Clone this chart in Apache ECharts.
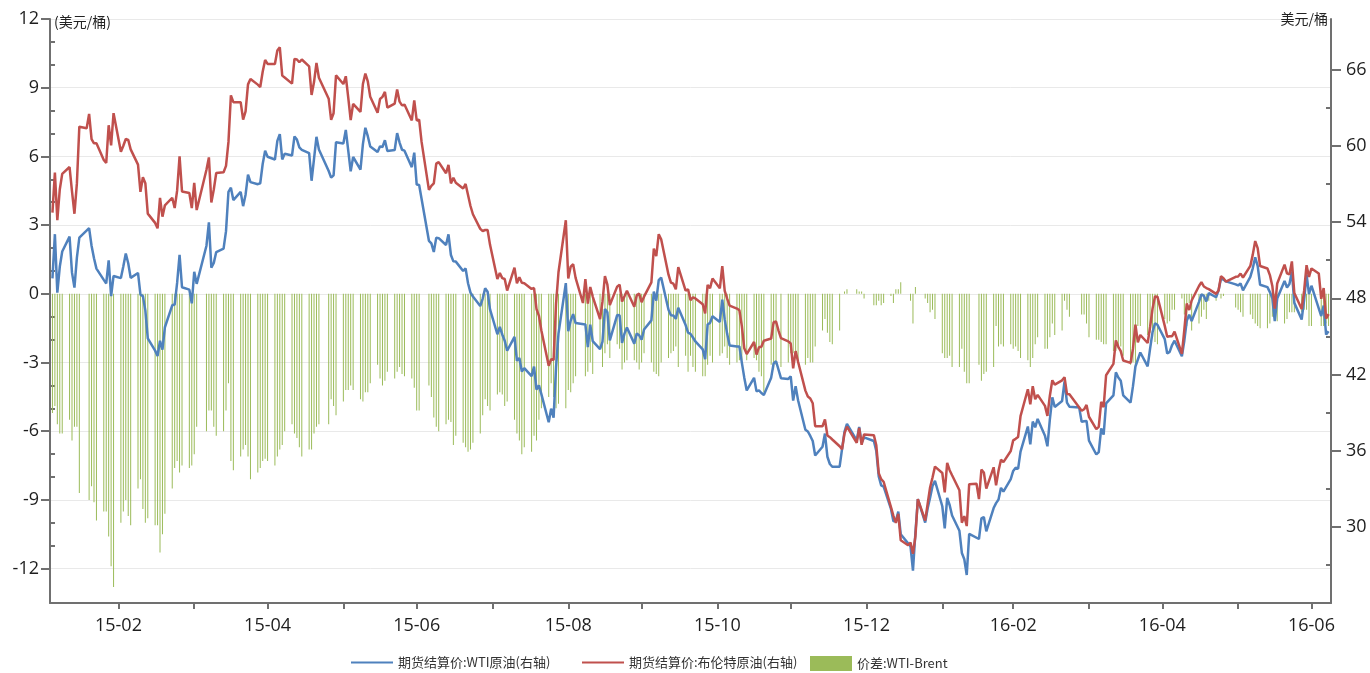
<!DOCTYPE html>
<html><head><meta charset="utf-8">
<script src="https://cdn.jsdelivr.net/npm/echarts@6/dist/echarts.min.js"></script>
<style>html,body{margin:0;padding:0;background:#fff}#c{width:1370px;height:673px}</style>
</head><body><div id="c"></div>
<script>
// trading calendar (weekdays between these dates, minus days both markets were closed)
const firstDay = '2015-02-02';
const lastDay = '2016-07-08';
const axisStart = '2015-02-01';
const axisEnd = '2016-07-09';
const closedDays = ['2015-04-03','2015-05-25','2015-12-25','2016-01-01','2016-03-25','2016-05-30'];

// 期货结算价:WTI原油 (right axis), one value per trading day, null = NYMEX closed
const wti = [
// 2015-02
49.57,53.05,48.45,50.48,51.69,52.86,50.02,48.84,51.21,52.78,null,53.53,52.14,51.16,50.34,49.45,49.17,50.99,48.17,49.76,
// 2015-03
49.59,50.52,51.53,50.76,49.61,50.00,48.29,48.17,47.05,44.84,43.88,43.46,44.66,43.96,45.72,47.45,47.51,49.21,51.43,48.87,48.68,47.60,
// 2015-04
50.09,49.14,52.14,53.98,50.42,50.79,51.64,51.91,53.29,56.39,56.71,55.74,56.38,55.26,56.16,57.74,57.15,56.99,57.06,58.58,59.63,
// 2015-05
59.15,58.93,60.40,60.93,58.94,59.39,59.25,60.75,60.50,59.88,59.69,59.43,57.26,58.98,60.72,59.72,58.03,57.51,57.68,60.30,
// 2015-06
60.20,61.26,59.64,58.00,59.13,58.14,60.14,61.43,60.77,59.96,59.52,59.97,59.92,60.45,59.61,59.68,61.01,60.27,59.70,59.63,58.33,59.47,
// 2015-07
56.96,56.93,null,52.53,52.33,51.65,52.78,52.74,52.20,53.04,51.41,50.91,50.89,50.15,50.36,49.19,48.45,48.14,47.39,47.98,48.79,48.52,47.12,
// 2015-08
45.17,45.74,45.15,44.66,43.87,44.96,43.08,43.30,42.23,42.50,41.87,42.62,40.80,41.14,40.45,38.24,39.31,38.60,42.56,45.22,49.20,
// 2015-09
45.41,46.25,46.75,46.05,null,45.94,44.15,45.92,44.63,44.00,44.59,47.15,46.90,44.68,46.68,46.66,44.48,45.22,45.70,44.43,45.23,45.09,
// 2015-10
44.74,45.54,46.26,48.53,47.81,49.43,49.63,47.10,46.66,46.64,46.38,47.26,45.89,45.29,45.20,44.91,44.60,43.98,43.20,45.94,46.06,46.59,
// 2015-11
46.14,47.90,46.32,45.20,44.29,44.21,44.21,42.93,41.75,40.74,41.74,40.67,40.75,40.54,40.39,41.75,42.87,43.04,null,41.71,41.65,
// 2015-12
41.85,39.94,41.08,39.97,37.65,37.51,37.16,36.76,35.62,36.31,37.35,35.52,34.95,34.73,34.74,36.14,37.50,38.10,36.81,37.87,36.60,37.04,
// 2016-01
36.76,35.97,33.97,33.27,33.16,31.41,30.44,30.48,31.20,29.42,null,28.46,26.55,29.53,32.19,30.34,31.45,32.30,33.22,33.62,
// 2016-02
31.62,29.88,32.28,31.72,30.89,29.69,27.94,27.45,26.21,29.44,null,29.04,30.66,30.77,29.64,31.48,31.87,32.15,33.07,32.78,33.75,
// 2016-03
34.40,34.66,34.57,35.92,37.90,36.50,38.29,37.84,38.50,37.18,36.34,38.46,40.20,39.44,39.91,41.45,39.79,39.46,39.39,38.28,38.32,38.34,
// 2016-04
36.79,35.70,35.89,37.75,37.26,39.72,40.36,42.17,41.76,41.50,40.36,39.78,41.08,42.63,43.18,43.73,42.64,44.04,45.33,46.03,45.92,
// 2016-05
44.78,43.65,43.78,44.32,44.66,43.44,44.66,46.23,46.70,46.21,47.72,48.31,48.19,47.75,48.41,48.08,48.62,49.56,49.48,49.33,49.10,
// 2016-06
49.01,49.17,48.62,49.69,50.36,51.23,50.56,49.07,48.88,48.49,48.01,46.21,47.98,49.37,48.85,49.13,50.11,47.64,46.33,47.85,49.88,48.33,
// 2016-07
48.99,null,46.60,47.43,45.14,45.41
];

// 期货结算价:布伦特原油 (right axis)
const brent = [
// 2015-02
54.75,57.91,54.16,56.57,57.80,58.34,56.43,54.66,57.05,61.52,61.40,62.53,60.53,60.21,60.22,58.90,58.66,61.63,60.05,62.58,
// 2015-03
59.54,60.02,60.55,60.48,59.73,58.53,56.39,57.54,57.07,54.67,53.94,53.51,55.91,54.43,55.32,55.92,55.11,56.48,59.19,56.41,56.29,55.11,
// 2015-04
57.10,54.95,58.12,59.10,55.55,56.57,57.87,57.93,58.43,60.32,63.98,63.45,63.45,62.08,62.72,64.85,65.28,64.83,64.64,65.84,66.78,
// 2015-05
66.46,66.45,67.52,67.77,65.54,65.39,64.91,66.86,66.81,66.59,66.81,66.27,64.02,65.03,66.54,65.37,63.72,62.06,62.58,65.56,
// 2015-06
64.88,65.49,63.80,62.03,63.31,62.69,64.88,65.70,65.08,63.87,62.61,63.70,63.87,64.26,63.02,63.34,64.45,63.49,63.20,63.26,62.01,63.59,
// 2015-07
62.01,62.07,60.32,56.54,56.85,57.05,58.61,58.73,57.85,58.51,57.05,57.50,57.10,56.65,57.01,56.13,55.27,54.62,53.47,53.30,53.38,53.38,52.21,
// 2015-08
49.52,49.99,49.59,49.52,48.61,50.41,49.18,49.66,49.22,49.19,48.74,48.81,47.16,46.62,45.46,42.69,43.21,43.14,47.56,50.05,54.15,
// 2015-09
49.56,50.50,50.68,49.61,47.63,49.52,47.58,48.89,48.14,46.37,47.75,49.75,49.08,47.47,48.92,49.08,47.75,48.17,48.60,47.34,48.23,48.37,
// 2015-10
47.69,48.13,49.25,51.92,51.33,53.05,52.65,49.86,49.24,49.15,48.71,50.46,48.61,48.71,47.85,48.08,47.99,47.54,46.81,49.05,48.80,49.56,
// 2015-11
48.79,50.54,48.58,47.98,47.42,47.19,47.06,45.81,44.06,43.61,44.56,43.57,44.14,44.18,44.66,44.83,46.12,46.17,45.46,44.86,44.61,
// 2015-12
44.44,42.49,43.84,43.00,40.73,40.26,40.11,39.73,37.93,37.92,38.45,37.19,37.06,36.88,36.35,36.11,37.36,37.89,36.62,37.79,36.46,37.28,
// 2016-01
37.22,36.42,34.23,33.75,33.55,31.55,30.86,30.31,31.03,28.94,28.55,28.76,27.88,29.25,32.18,30.50,31.80,33.10,33.89,34.74,
// 2016-02
34.24,32.72,35.04,34.46,34.06,32.88,30.32,30.84,30.06,33.36,33.39,32.18,34.50,34.28,33.01,34.69,33.27,34.41,35.29,35.10,35.97,
// 2016-03
36.81,36.93,37.07,38.72,40.84,39.65,41.07,40.05,40.39,39.53,38.74,40.33,41.54,41.20,41.54,41.79,40.47,40.44,null,39.14,39.26,39.60,
// 2016-04
38.67,37.69,37.87,39.84,39.43,41.94,42.83,44.69,44.18,43.84,43.10,42.91,44.03,45.92,44.53,45.11,44.48,45.74,47.18,48.14,48.13,
// 2016-05
45.83,44.97,45.01,45.01,45.37,43.63,45.52,47.59,47.08,47.83,48.97,49.28,48.93,48.81,48.72,48.35,48.61,49.74,49.59,49.32,49.69,
// 2016-06
49.72,49.95,49.64,50.55,51.44,52.51,51.95,50.54,50.35,49.83,48.97,47.19,49.17,50.65,49.96,49.88,50.91,48.41,47.16,48.58,50.61,49.68,
// 2016-07
50.35,49.96,47.96,48.80,46.40,46.76
];

// 价差:WTI-Brent (left axis)
const spread = [
// 2015-02
-5.2,-4.9,-5.7,-6.1,-6.1,-5.5,-6.4,-5.8,-5.8,-8.7,null,-9.0,-8.4,-9.1,-9.9,-9.5,-9.5,-10.6,-11.9,-12.8,
// 2015-03
-10.0,-9.5,-9.0,-9.7,-10.1,-8.5,-8.1,-9.4,-10.0,-9.8,-10.1,-10.1,-11.3,-10.5,-9.6,-8.5,-7.6,-7.3,-7.8,-7.5,-7.6,-7.5,
// 2015-04
-7.0,-5.8,-6.0,-5.1,-5.1,-5.8,-6.2,-6.0,-5.1,-3.9,-7.3,-7.7,-7.1,-6.8,-6.6,-7.1,-8.1,-7.8,-7.6,-7.3,-7.2,
// 2015-05
-7.3,-7.5,-7.1,-6.8,-6.6,-6.0,-5.7,-6.1,-6.3,-6.7,-7.1,-6.8,-6.8,-6.1,-5.8,-5.7,-5.7,-4.6,-4.9,-5.3,
// 2015-06
-4.7,-4.2,-4.2,-4.0,-4.2,-4.6,-4.7,-4.3,-4.3,-3.9,-3.1,-3.7,-4.0,-3.8,-3.4,-3.7,-3.4,-3.2,-3.5,-3.6,-3.7,-4.1,
// 2015-07
-5.1,-5.1,null,-4.0,-4.5,-5.4,-5.8,-6.0,-5.7,-5.5,-5.6,-6.6,-6.2,-6.5,-6.7,-6.9,-6.8,-6.5,-6.1,-5.3,-4.6,-4.9,-5.1,
// 2015-08
-4.4,-4.3,-4.4,-4.9,-4.7,-5.5,-6.1,-6.4,-7.0,-6.7,-6.9,-6.2,-6.4,-5.5,-5.0,-4.5,-3.9,-4.5,-5.0,-4.8,-5.0,
// 2015-09
-4.2,-4.3,-3.9,-3.6,null,-3.6,-3.4,-3.0,-3.5,-2.4,-3.2,-2.6,-2.2,-2.8,-2.2,-2.4,-3.3,-3.0,-2.9,-2.9,-3.0,-3.3,
// 2015-10
-3.0,-2.6,-3.0,-3.4,-3.5,-3.6,-3.0,-2.8,-2.6,-2.5,-2.3,-3.2,-2.7,-3.4,-2.7,-3.2,-3.4,-3.6,-3.6,-3.1,-2.7,-3.0,
// 2015-11
-2.7,-2.6,-2.3,-2.8,-3.1,-3.0,-2.9,-2.9,-2.3,-2.9,-2.8,-2.9,-3.4,-3.6,-4.3,-3.1,-3.3,-3.1,null,-3.2,-3.0,
// 2015-12
-2.6,-2.6,-2.8,-3.0,-3.1,-2.8,-3.0,-3.0,-2.3,-1.6,-1.1,-1.7,-2.1,-2.2,-1.6,0.0,0.1,0.2,0.2,0.1,0.1,-0.2,
// 2016-01
-0.5,-0.5,-0.3,-0.5,-0.4,-0.1,-0.4,0.2,0.2,0.5,null,-0.3,-1.3,0.3,0.0,-0.2,-0.4,-0.8,-0.7,-1.1,
// 2016-02
-2.6,-2.8,-2.8,-2.7,-3.2,-3.2,-2.4,-3.4,-3.9,-3.9,null,-3.1,-3.8,-3.5,-3.4,-3.2,-1.4,-2.3,-2.2,-2.3,-2.2,
// 2016-03
-2.4,-2.3,-2.5,-2.8,-2.9,-3.2,-2.8,-2.2,-1.9,-2.4,-2.4,-1.9,-1.3,-1.8,-1.6,-0.3,-0.7,-1.0,null,-0.9,-0.9,-1.3,
// 2016-04
-1.9,-2.0,-2.0,-2.1,-2.2,-2.2,-2.5,-2.5,-2.4,-2.3,-2.7,-3.1,-3.0,-3.3,-1.4,-1.4,-1.8,-1.7,-1.9,-2.1,-2.2,
// 2016-05
-1.1,-1.3,-1.2,-0.7,-0.7,-0.2,-0.9,-1.4,-0.4,-1.6,-1.3,-1.0,-0.7,-1.1,-0.3,-0.3,0.0,-0.2,-0.1,0.0,-0.6,
// 2016-06
-0.7,-0.8,-1.0,-0.9,-1.1,-1.3,-1.4,-1.5,-1.5,-1.3,-1.0,-1.0,-1.2,-1.3,-1.1,-0.8,-0.8,-0.8,-0.8,-0.7,-0.7,-1.4,
// 2016-07
-1.4,null,-1.4,-1.4,-1.3,-1.4
];

// axis ticks and labels
const monthTicks = ['2015-03-01','2015-04-01','2015-05-01','2015-06-01','2015-07-01','2015-08-01','2015-09-01','2015-10-01','2015-11-01','2015-12-01','2016-01-01','2016-02-01','2016-03-01','2016-04-01','2016-05-01','2016-06-01','2016-07-01'];
const xLabelDates = ['2015-03-01','2015-05-01','2015-07-01','2015-09-01','2015-11-01','2016-01-01','2016-03-01','2016-05-01','2016-07-01'];
const xLabels = ['15-02','15-04','15-06','15-08','15-10','15-12','16-02','16-04','16-06'];
const leftMajor = [-12,-9,-6,-3,0,3,6,9,12];
const leftMinor = [-11,-10,-8,-7,-5,-4,-2,-1,1,2,4,5,7,8,10,11];
const rightMajor = [30,36,42,48,54,60,66];
const rightMinor = [27,33,39,45,51,57,63];

const nameWTI = '期货结算价:WTI原油(右轴)';
const nameBrent = '期货结算价:布伦特原油(右轴)';
const nameSpread = '价差:WTI-Brent';

const ts = s => { const a = s.split('-').map(Number); return Date.UTC(a[0], a[1]-1, a[2]); };
function buildDays() {
  const out = [];
  for (let t = ts(firstDay); t <= ts(lastDay); t += 86400000) {
    const d = new Date(t), wd = d.getUTCDay(), s = d.toISOString().slice(0,10);
    if (wd !== 0 && wd !== 6 && closedDays.indexOf(s) < 0) out.push(t);
  }
  return out;
}
const days = buildDays();
const pair = arr => days.map((t, i) => [t, arr[i] === undefined ? null : arr[i]]);

const axisColor = '#707070';
const numFont = { fontFamily: 'Open Sans', fontSize: 18, color: '#1e1e1e' };
const cjk = 'Noto Sans CJK SC';

function xLabel(v) {
  const key = new Date(v).toISOString().slice(0,10);
  const i = xLabelDates.indexOf(key);
  return i >= 0 ? xLabels[i] : '';
}

const chart = echarts.init(document.getElementById('c'), null, { renderer: 'canvas' });
const legendBase = { top: 656, padding: 0, itemWidth: 42, itemHeight: 15, itemGap: 0,
  textStyle: { fontFamily: cjk, fontSize: 13, color: '#333' } };
chart.setOption({
  animation: false,
  backgroundColor: '#fff',
  grid: { left: 50, right: 39, top: 19, bottom: 70, containLabel: false },
  legend: [
    Object.assign({ left: 350, data: [nameWTI], itemStyle: { opacity: 0 } }, legendBase),
    Object.assign({ left: 581, data: [nameBrent], itemStyle: { opacity: 0 } }, legendBase),
    Object.assign({ left: 810, data: [{ name: nameSpread, icon: 'rect' }] }, legendBase)
  ],
  xAxis: {
    type: 'value', min: ts(axisStart), max: ts(axisEnd),
    axisLine: { onZero: false, lineStyle: { color: axisColor, width: 2 } },
    axisTick: { show: true, length: 6, customValues: monthTicks.map(ts), lineStyle: { color: axisColor, width: 2 } },
    axisLabel: Object.assign({ customValues: xLabelDates.map(ts), formatter: xLabel, margin: 14 }, numFont),
    splitLine: { show: false }
  },
  yAxis: [
    { type: 'value', position: 'left', min: -13.5, max: 12,
      name: '(美元/桶)', nameLocation: 'end', nameGap: -3,
      nameTextStyle: { fontFamily: cjk, fontSize: 14, color: '#222', align: 'left', verticalAlign: 'middle', padding: [0,0,0,4] },
      axisLine: { show: true, lineStyle: { color: axisColor, width: 2 } },
      axisTick: { show: true, length: 9, customValues: leftMajor, lineStyle: { color: axisColor, width: 2 } },
      axisLabel: Object.assign({ customValues: leftMajor, margin: 11 }, numFont),
      splitLine: { show: true, lineStyle: { color: '#e9e9e9', width: 1 } }
    },
    { type: 'value', position: 'right', min: 24, max: 70,
      name: '美元/桶', nameLocation: 'end', nameGap: 0,
      nameTextStyle: { fontFamily: cjk, fontSize: 14, color: '#222', align: 'right', verticalAlign: 'middle', padding: [0,3,0,0] },
      axisLine: { show: true, lineStyle: { color: axisColor, width: 2 } },
      axisTick: { show: true, length: 10, customValues: rightMajor, lineStyle: { color: axisColor, width: 2 } },
      axisLabel: Object.assign({ customValues: rightMajor, margin: 15 }, numFont),
      splitLine: { show: false }
    },
    { type: 'value', position: 'left', min: -13.5, max: 12, offset: 0,
      axisLine: { show: false }, axisLabel: { show: false }, splitLine: { show: false },
      axisTick: { show: true, inside: true, length: 5, customValues: leftMinor, lineStyle: { color: axisColor, width: 2 } }
    },
    { type: 'value', position: 'right', min: 24, max: 70, offset: 0,
      axisLine: { show: false }, axisLabel: { show: false }, splitLine: { show: false },
      axisTick: { show: true, inside: true, length: 5, customValues: rightMinor, lineStyle: { color: axisColor, width: 2 } }
    }
  ],
  series: [
    { name: nameSpread, type: 'bar', yAxisIndex: 0, data: pair(spread), barWidth: 1,
      itemStyle: { color: '#9bbb59' }, z: 1 },
    { name: nameWTI, type: 'line', yAxisIndex: 1, data: pair(wti), symbol: 'none', showSymbol: false,
      connectNulls: true, lineStyle: { color: '#4f81bd', width: 2.5 }, itemStyle: { color: '#4f81bd' }, z: 3 },
    { name: nameBrent, type: 'line', yAxisIndex: 1, data: pair(brent), symbol: 'none', showSymbol: false,
      connectNulls: true, lineStyle: { color: '#c0504d', width: 2.5 }, itemStyle: { color: '#c0504d' }, z: 4 }
  ]
});
</script>
</body></html>
